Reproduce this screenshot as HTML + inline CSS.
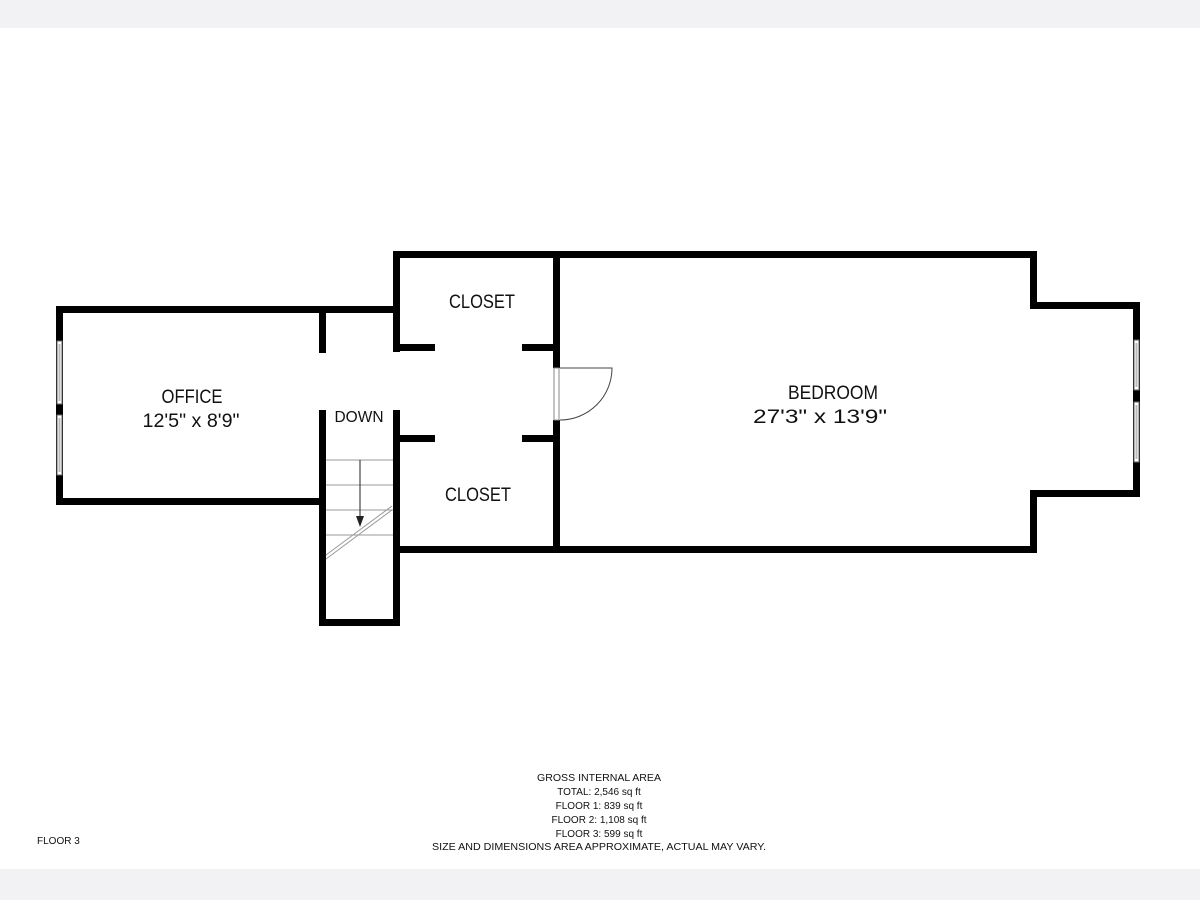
<!DOCTYPE html>
<html><head><meta charset="utf-8"><style>
html,body{margin:0;padding:0;background:#fff;}
svg{display:block}
text{font-family:"Liberation Sans",sans-serif;fill:#111}
</style></head><body>
<svg width="1200" height="900" viewBox="0 0 1200 900" xmlns="http://www.w3.org/2000/svg">
<rect x="0" y="0" width="1200" height="900" fill="#fff"/>
<rect x="0" y="0" width="1200" height="28" fill="#f2f2f4"/>
<rect x="0" y="869" width="1200" height="31" fill="#f2f2f4"/>
<g fill="#000">
<!-- office -->
<rect x="56" y="306" width="344" height="7"/>
<rect x="56" y="306" width="7" height="199"/>
<rect x="56" y="498" width="270" height="7"/>
<rect x="319" y="306" width="7" height="47"/>
<!-- stair -->
<rect x="319" y="410" width="7" height="216"/>
<rect x="393" y="410" width="7" height="216"/>
<rect x="319" y="619" width="81" height="7"/>
<!-- closets -->
<rect x="393" y="251" width="644" height="7"/>
<rect x="393" y="251" width="7" height="101"/>
<rect x="393" y="344" width="42" height="7"/>
<rect x="522" y="344" width="38" height="7"/>
<rect x="393" y="435" width="42" height="7"/>
<rect x="522" y="435" width="38" height="7"/>
<rect x="553" y="251" width="7" height="117"/>
<rect x="553" y="420" width="7" height="133"/>
<rect x="393" y="546" width="644" height="7"/>
<!-- bedroom -->
<rect x="1030" y="251" width="7" height="58"/>
<rect x="1030" y="302" width="110" height="7"/>
<rect x="1133" y="302" width="7" height="195"/>
<rect x="1030" y="490" width="110" height="7"/>
<rect x="1030" y="490" width="7" height="63"/>
</g>
<!-- windows -->
<g fill="#fff" stroke="#666" stroke-width="1">
<rect x="57" y="341" width="5" height="63"/>
<rect x="57" y="415" width="5" height="60"/>
<rect x="1134" y="340" width="5" height="50"/>
<rect x="1134" y="402" width="5" height="60"/>
</g>
<g fill="#bbb">
<rect x="58.5" y="344" width="2" height="57"/>
<rect x="58.5" y="418" width="2" height="54"/>
<rect x="1135.5" y="343" width="2" height="44"/>
<rect x="1135.5" y="405" width="2" height="54"/>
</g>
<!-- door -->
<rect x="554" y="368" width="5" height="52" fill="#fff" stroke="#888" stroke-width="1"/>
<path d="M560 368 L612 368 A52 52 0 0 1 560 420" fill="none" stroke="#444" stroke-width="1"/>
<!-- stair treads -->
<g stroke="#999" stroke-width="1">
<line x1="326" y1="460" x2="393" y2="460"/>
<line x1="326" y1="485" x2="393" y2="485"/>
<line x1="326" y1="510" x2="393" y2="510"/>
<line x1="326" y1="535" x2="393" y2="535"/>
<line x1="326" y1="555" x2="392" y2="506"/>
<line x1="326" y1="559" x2="392" y2="510"/>
</g>
<line x1="360" y1="460" x2="360" y2="518" stroke="#222" stroke-width="1"/>
<polygon points="356,516 364,516 360,527" fill="#222"/>
<!-- labels -->
<text x="482" y="308" font-size="19" text-anchor="middle" textLength="66" lengthAdjust="spacingAndGlyphs">CLOSET</text>
<text x="478" y="501" font-size="19" text-anchor="middle" textLength="66" lengthAdjust="spacingAndGlyphs">CLOSET</text>
<text x="833" y="399" font-size="19" text-anchor="middle" textLength="90" lengthAdjust="spacingAndGlyphs">BEDROOM</text>
<text x="820" y="423" font-size="19" text-anchor="middle" textLength="134" lengthAdjust="spacingAndGlyphs">27'3" x 13'9"</text>
<text x="192" y="403" font-size="19" text-anchor="middle" textLength="61" lengthAdjust="spacingAndGlyphs">OFFICE</text>
<text x="191" y="427" font-size="19" text-anchor="middle" textLength="97" lengthAdjust="spacingAndGlyphs">12'5" x 8'9"</text>
<text x="359" y="422" font-size="16" text-anchor="middle" textLength="49" lengthAdjust="spacingAndGlyphs">DOWN</text>
<g font-size="10" text-anchor="middle">
<text x="599" y="781" textLength="124" lengthAdjust="spacingAndGlyphs">GROSS INTERNAL AREA</text>
<text x="599" y="795">TOTAL: 2,546 sq ft</text>
<text x="599" y="809">FLOOR 1: 839 sq ft</text>
<text x="599" y="823">FLOOR 2: 1,108 sq ft</text>
<text x="599" y="837">FLOOR 3: 599 sq ft</text>
<text x="599" y="850" textLength="334" lengthAdjust="spacingAndGlyphs">SIZE AND DIMENSIONS AREA APPROXIMATE, ACTUAL MAY VARY.</text>
</g>
<text x="37" y="844" font-size="10">FLOOR 3</text>
</svg>
</body></html>
